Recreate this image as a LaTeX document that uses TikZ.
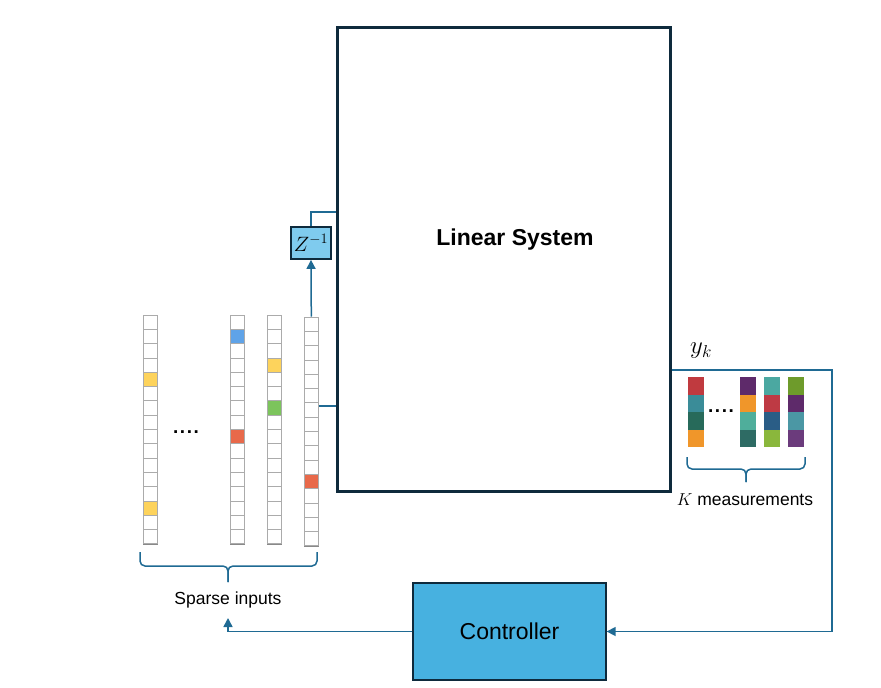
\documentclass[tikz,border=0pt]{standalone}
\usepackage{fontspec}
\setmainfont{Liberation Sans}
\usetikzlibrary{arrows.meta}
\definecolor{linec}{HTML}{1F6A93}
\definecolor{lsborder}{HTML}{0E2A3C}
\definecolor{zfill}{HTML}{7FCBEE}
\definecolor{ctrlfill}{HTML}{47B1E0}
\definecolor{cellb}{HTML}{ABABAB}
\definecolor{cyel}{HTML}{FDD35C}
\definecolor{cblue}{HTML}{5FA3E8}
\definecolor{cred}{HTML}{E8694A}
\definecolor{cgreen}{HTML}{7CC45C}
\definecolor{mred}{HTML}{C03A3F}
\definecolor{mteal}{HTML}{3A8C98}
\definecolor{mdgreen}{HTML}{276A5A}
\definecolor{morange}{HTML}{F0962A}
\definecolor{mpurple}{HTML}{5E2A6A}
\definecolor{mtealg}{HTML}{4FAE9B}
\definecolor{mdteal}{HTML}{2E6B64}
\definecolor{mteal2}{HTML}{4BA8A1}
\definecolor{mred2}{HTML}{BE3A44}
\definecolor{mdblue}{HTML}{2A5D86}
\definecolor{mlgreen}{HTML}{8AB73C}
\definecolor{molive}{HTML}{6E9B2B}
\definecolor{mteal3}{HTML}{4B97A4}
\definecolor{mpurple2}{HTML}{6B3B7C}
\tikzset{
  conn/.style={draw=linec, line width=1.5pt},
  arr/.style={-{Triangle[length=9pt,width=9pt]}},
  cellline/.style={draw=cellb, line width=0.8pt},
  colnode/.style={rectangle, draw=cellb!80!black, line width=0.8pt, minimum width=14.6pt, minimum height=229pt, inner sep=0pt},
  bracestyle/.style={draw=linec, line width=1.5pt, rounded corners=5pt},
  lsbox/.style={rectangle, draw=lsborder, line width=3pt, minimum width=332.5pt, minimum height=463.5pt, inner sep=0pt},
  zboxst/.style={rectangle, draw=lsborder, fill=zfill, line width=1.8pt, minimum width=40pt, minimum height=32pt, inner sep=0pt},
  ctrlst/.style={rectangle, draw=lsborder, fill=ctrlfill, line width=1.3pt, minimum width=193pt, minimum height=97pt, inner sep=0pt},
  lbl/.style={inner sep=0pt, text=black},
}
\newcommand{\sparsecol}[3]{%
  \node[colnode] (#1) at (#2+7.3, #3+114.4) {};
  \foreach \i in {0,...,15} \draw[cellline] (#2,#3+\i*14.3) rectangle ++(14.6,14.3);
}
\newcommand{\colcell}[4]{%
  \filldraw[cellline, fill=#4] (#1,#2+#3*14.3) rectangle ++(14.6,14.3);
}
\newcommand{\meascol}[6]{%
  \node[rectangle, inner sep=0pt, minimum width=16pt, minimum height=70pt] (#1) at (#2+8, 412) {};
  \fill[#3] (#2,377) rectangle ++(16,17.5);
  \fill[#4] (#2,394.5) rectangle ++(16,17.5);
  \fill[#5] (#2,412) rectangle ++(16,17.5);
  \fill[#6] (#2,429.5) rectangle ++(16,17.5);
}
\newcommand{\fourdots}{.\kern1.6pt.\kern1.6pt.\kern1.6pt.}
\begin{document}
\begin{tikzpicture}[x=1pt,y=-1pt]
\useasboundingbox (0,0) rectangle (881,688);

% Linear system
\node[lsbox] (ls) at (503.75,259.25) {};
\node[lbl] (lstext) at (515,240) {\fontsize{23}{27}\selectfont\bfseries Linear System};

% Z^-1 box
\node[zboxst] (zbox) at (311,243) {\fontsize{20}{20}\selectfont $Z^{-1}$};

% Controller
\node[ctrlst] (ctrl) at (509.5,631.5) {\fontsize{23}{27}\selectfont Controller};

% sparse input columns
\sparsecol{col1}{143}{315}
\sparsecol{col2}{230}{315}
\sparsecol{col3}{267}{315}
\sparsecol{col4}{304}{317}
\colcell{143}{315}{4}{cyel}
\colcell{143}{315}{13}{cyel}
\colcell{230}{315}{1}{cblue}
\colcell{230}{315}{8}{cred}
\colcell{267}{315}{3}{cyel}
\colcell{267}{315}{6}{cgreen}
\colcell{304}{317}{11}{cred}
\node[lbl, anchor=base] (dots1) at (186,433) {\fontsize{19}{19}\selectfont\bfseries\fourdots};

% sparse brace
\draw[bracestyle] (140,552) -- (140,566) -- (228,566) -- (228,582);
\draw[bracestyle] (317,552) -- (317,566) -- (228,566) -- (228,582);
\node[lbl] (sparse) at (228,600) {\fontsize{17.5}{20}\selectfont Sparse inputs};

% measurement columns
\meascol{m1}{688}{mred}{mteal}{mdgreen}{morange}
\meascol{m2}{739.5}{mpurple}{morange}{mtealg}{mdteal}
\meascol{m3}{764}{mteal2}{mred2}{mdblue}{mlgreen}
\meascol{m4}{788}{molive}{mpurple}{mteal3}{mpurple2}
\node[lbl, anchor=base] (dots2) at (721,412) {\fontsize{19}{19}\selectfont\bfseries\fourdots};
\draw[bracestyle] (687,457) -- (687,469) -- (746,469) -- (746,482);
\draw[bracestyle] (805,457) -- (805,469) -- (746,469) -- (746,482);
\node[lbl] (kmeas) at (745,500) {\fontsize{17.5}{20}\selectfont $K$ measurements};
\node[lbl] (yk) at (701,351) {\fontsize{25}{25}\selectfont $y_k$};

% connectors
\coordinate (zturn) at (311,212);
\coordinate (fbk) at (832,370);
\coordinate (sparsein) at (228,618);
\draw[conn,arr] (col4.north) -- (zbox.south);
\draw[conn] (zbox.north) -- (zturn) -- (zturn -| ls.west);
\draw[conn] ([yshift=25.5pt]col4.east) -- ([yshift=25.5pt]col4.east -| ls.west);
\draw[conn,arr] ([yshift=-110.75pt]ls.east) -- (fbk) |- (ctrl.east);
\draw[conn,arr] (ctrl.west) -| (sparsein);
\end{tikzpicture}
\end{document}
